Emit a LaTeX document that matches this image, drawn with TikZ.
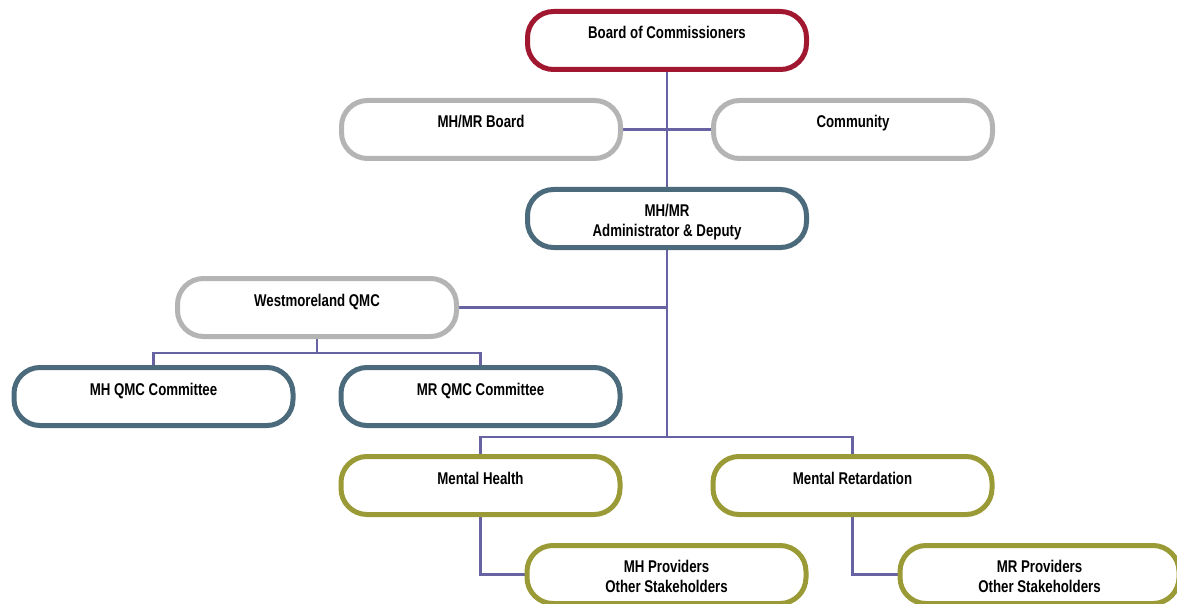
\documentclass[tikz,border=0pt]{standalone}
\usepackage{fontspec}
\setmainfont{Liberation Sans}[FakeStretch=0.78]
\usepackage{tikz}
\usetikzlibrary{positioning, backgrounds}

\definecolor{boardred}{HTML}{A0172F}
\definecolor{advisorgray}{HTML}{B4B4B4}
\definecolor{staffblue}{HTML}{4B6A7C}
\definecolor{serviceolive}{HTML}{9A9A36}
\definecolor{linkpurple}{HTML}{6762A2}

\begin{document}
\begin{tikzpicture}[
  x=1pt, y=-1pt,
  unit/.style={
    rectangle, rounded corners=26pt, draw=#1, fill=white,
    line width=5pt, minimum width=279pt, minimum height=58pt,
    align=center, font=\fontsize{17}{20}\selectfont\bfseries
  },
  oneline/.style={text height=10pt, text depth=13pt},
  twoline/.style={text height=38pt, text depth=3pt},
  link/.style={draw=linkpurple, line width=2.2pt}
]
\useasboundingbox (0,0) rectangle (1177,604);

% Top: board and advisors
\node[unit=boardred, oneline] (board) at (667,40.5) {Board of Commissioners};
\node[unit=advisorgray, oneline, below=26pt of board, xshift=-186pt] (mhmrboard) {MH/MR Board};
\node[unit=advisorgray, oneline, right=88pt of mhmrboard] (community) {Community};

% Administration
\node[unit=staffblue, twoline, below=115pt of board] (admin) {MH/MR\\Administrator \& Deputy};

% Quality management
\node[unit=advisorgray, oneline, below=26pt of admin, xshift=-350pt] (wqmc) {Westmoreland QMC};
\node[unit=staffblue, oneline, below=26pt of wqmc, xshift=-163.5pt] (mhqmc) {MH QMC Committee};
\node[unit=staffblue, oneline, right=43pt of mhqmc] (mrqmc) {MR QMC Committee};

% Service divisions
\node[unit=serviceolive, oneline, below=26pt of mrqmc] (mh) {Mental Health};
\node[unit=serviceolive, oneline, right=88pt of mh] (mr) {Mental Retardation};
\node[unit=serviceolive, twoline, below=26pt of mh, xshift=186pt] (mhprov) {MH Providers\\Other Stakeholders};
\node[unit=serviceolive, twoline, below=26pt of mr, xshift=187pt] (mrprov) {MR Providers\\Other Stakeholders};

% Connectors
\coordinate[above=17pt of mh.north] (divfork);
\coordinate[below=14pt of wqmc.south] (qmcfork);
\begin{scope}[on background layer]
\draw[link] (board) -- (admin);
\draw[link] (mhmrboard) -- (community);
\draw[link] (admin.south) -- (admin.south |- divfork);
\draw[link] (wqmc) -- (wqmc -| admin);
\draw[link] (wqmc.south) -- (qmcfork) -| (mhqmc.north);
\draw[link] (qmcfork) -| (mrqmc.north);
\draw[link] (mh.north) -- (divfork) -| (mr.north);
\draw[link] (mh.south) |- (mhprov.west);
\draw[link] (mr.south) |- (mrprov.west);
\end{scope}

\end{tikzpicture}
\end{document}
